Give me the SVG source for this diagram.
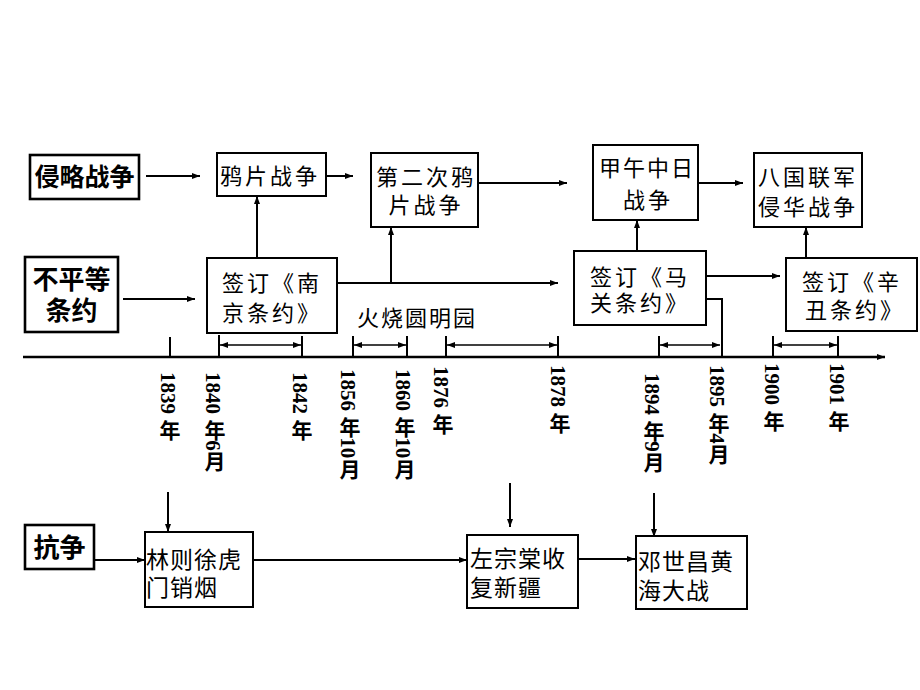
<svg xmlns="http://www.w3.org/2000/svg" width="920" height="690" viewBox="0 0 920 690">
<defs>
<marker id="ah" viewBox="0 0 8 6" refX="8" refY="3" markerWidth="8" markerHeight="6" markerUnits="userSpaceOnUse" orient="auto-start-reverse">
<path d="M0,0 L8,3 L0,6 z" fill="#000"/>
</marker>
<style>
.box{fill:#fff;stroke:#000;stroke-width:2}
.hbox{fill:#fff;stroke:#000;stroke-width:2.6}
.ln{fill:none;stroke:#000;stroke-width:2}
.ar{fill:none;stroke:#000;stroke-width:2;marker-end:url(#ah)}
.da{fill:none;stroke:#000;stroke-width:1.5;marker-start:url(#ah);marker-end:url(#ah)}
.h{font-family:"Liberation Sans","Noto Sans CJK SC",sans-serif;font-weight:bold;font-size:25px;fill:#000}
.t{font-family:"Liberation Sans","Noto Sans CJK SC",sans-serif;font-size:22px;fill:#000;letter-spacing:3px}
.b{font-family:"Liberation Sans","Noto Sans CJK SC",sans-serif;font-size:23px;fill:#000;letter-spacing:1px}
.y{font-family:"Liberation Serif","Noto Sans CJK SC",serif;font-weight:bold;font-size:21px;fill:#000;writing-mode:vertical-rl;text-orientation:mixed}
</style>
</defs>
<rect width="920" height="690" fill="#fff"/>

<g id="connectors">
<line class="ar" x1="146" y1="176" x2="200" y2="176"/>
<line class="ar" x1="326" y1="176" x2="353" y2="176"/>
<line class="ar" x1="257" y1="258" x2="257" y2="196"/>
<line class="ar" x1="123" y1="299" x2="195" y2="299"/>
<line class="ar" x1="337" y1="283" x2="558" y2="283"/>
<line class="ar" x1="391" y1="283" x2="391" y2="227"/>
<line class="ar" x1="476" y1="183" x2="567" y2="183"/>
<line class="ar" x1="698" y1="183" x2="743" y2="183"/>
<line class="ar" x1="637" y1="251" x2="637" y2="220"/>
<line class="ar" x1="700" y1="276" x2="780" y2="276"/>
<line class="ar" x1="806" y1="258" x2="806" y2="227"/>
<polyline class="ln" points="700,299 722,299 722,357"/>
<line class="ar" x1="23" y1="357" x2="885" y2="357" style="stroke-width:2.5"/>
<g class="ln">
<line x1="170" y1="337" x2="170" y2="357"/>
<line x1="219" y1="335" x2="219" y2="357"/>
<line x1="302" y1="336" x2="302" y2="357"/>
<line x1="353" y1="336" x2="353" y2="357"/>
<line x1="407" y1="336" x2="407" y2="357"/>
<line x1="446" y1="336" x2="446" y2="357"/>
<line x1="558" y1="336" x2="558" y2="357"/>
<line x1="659" y1="336" x2="659" y2="357"/>
<line x1="773" y1="336" x2="773" y2="357"/>
<line x1="838" y1="336" x2="838" y2="357"/>
</g>
<line class="da" x1="220" y1="345" x2="301" y2="345"/>
<line class="da" x1="354" y1="345" x2="406" y2="345"/>
<line class="da" x1="447" y1="345" x2="557" y2="345"/>
<line class="da" x1="660" y1="345" x2="720" y2="345"/>
<line class="da" x1="774" y1="345" x2="837" y2="345"/>
<line class="ar" x1="168" y1="492" x2="168" y2="532"/>
<line class="ar" x1="510" y1="483" x2="510" y2="527"/>
<line class="ar" x1="654" y1="493" x2="654" y2="537"/>
<line class="ar" x1="94" y1="560" x2="145" y2="560"/>
<line class="ar" x1="253" y1="560" x2="467" y2="560"/>
<line class="ar" x1="578" y1="559" x2="635" y2="559"/>
</g>

<g id="qinlue"><rect class="hbox" x="30" y="155" width="109" height="44"/><text class="h" x="84.5" y="186" text-anchor="middle">侵略战争</text></g>
<g id="yapian"><rect class="box" x="217" y="153" width="109" height="43"/><text class="t" x="220" y="184">鸦片战争</text></g>
<g id="bupingdeng"><rect class="hbox" x="25" y="257" width="93" height="75"/><text class="h" x="71.5" y="289" text-anchor="middle" style="font-size:26px">不平等</text><text class="h" x="71.5" y="320" text-anchor="middle" style="font-size:26px">条约</text></g>
<g id="nanjing"><rect class="box" x="207" y="258" width="130" height="75"/><text class="t" x="222" y="291">签订《南</text><text class="t" x="222" y="321">京条约》</text></g>
<g id="dierci"><rect class="box" x="371" y="153" width="107" height="74"/><text class="t" x="376" y="185">第二次鸦</text><text class="t" x="426" y="213" text-anchor="middle">片战争</text></g>
<g id="jiawu"><rect class="box" x="593" y="145" width="105" height="75"/><text class="t" x="599" y="176" style="letter-spacing:2px">甲午中日</text><text class="t" x="648" y="208" text-anchor="middle">战争</text></g>
<g id="baguo"><rect class="box" x="754" y="153" width="108" height="74"/><text class="t" x="758" y="185">八国联军</text><text class="t" x="758" y="215">侵华战争</text></g>
<g id="maguan"><rect class="box" x="574" y="251" width="132" height="74"/><text class="t" x="590" y="285">签订《马</text><text class="t" x="590" y="311">关条约》</text></g>
<g id="xinchou"><rect class="box" x="786" y="258" width="131" height="73"/><text class="t" x="802" y="290">签订《辛</text><text class="t" x="805" y="318">丑条约》</text></g>
<g id="yuanmingyuan"><text class="t" x="357" y="326" style="letter-spacing:2px">火烧圆明园</text></g>

<g id="years">
<text class="y" x="168" y="372">1839 年</text>
<text class="y" x="213" y="372">1840 年6月</text>
<text class="y" x="300" y="372">1842 年</text>
<text class="y" x="348" y="369">1856 年10月</text>
<text class="y" x="403" y="369">1860 年10月</text>
<text class="y" x="441" y="366">1876 年</text>
<text class="y" x="558" y="365">1878 年</text>
<text class="y" x="652" y="373">1894 年9月</text>
<text class="y" x="717" y="365">1895 年4月</text>
<text class="y" x="772" y="363">1900 年</text>
<text class="y" x="837" y="363">1901 年</text>
</g>

<g id="kangzheng"><rect class="hbox" x="25" y="525" width="69" height="44"/><text class="h" x="59.5" y="557" text-anchor="middle" style="font-size:26px">抗争</text></g>
<g id="linzexu"><rect class="box" x="145" y="532" width="108" height="75"/><text class="b" x="146" y="568">林则徐虎</text><text class="b" x="146" y="596">门销烟</text></g>
<g id="zuozongtang"><rect class="box" x="467" y="535" width="111" height="73"/><text class="b" x="470" y="567">左宗棠收</text><text class="b" x="470" y="596">复新疆</text></g>
<g id="dengshichang"><rect class="box" x="636" y="536" width="111" height="73"/><text class="b" x="638" y="570">邓世昌黄</text><text class="b" x="638" y="599">海大战</text></g>
</svg>
